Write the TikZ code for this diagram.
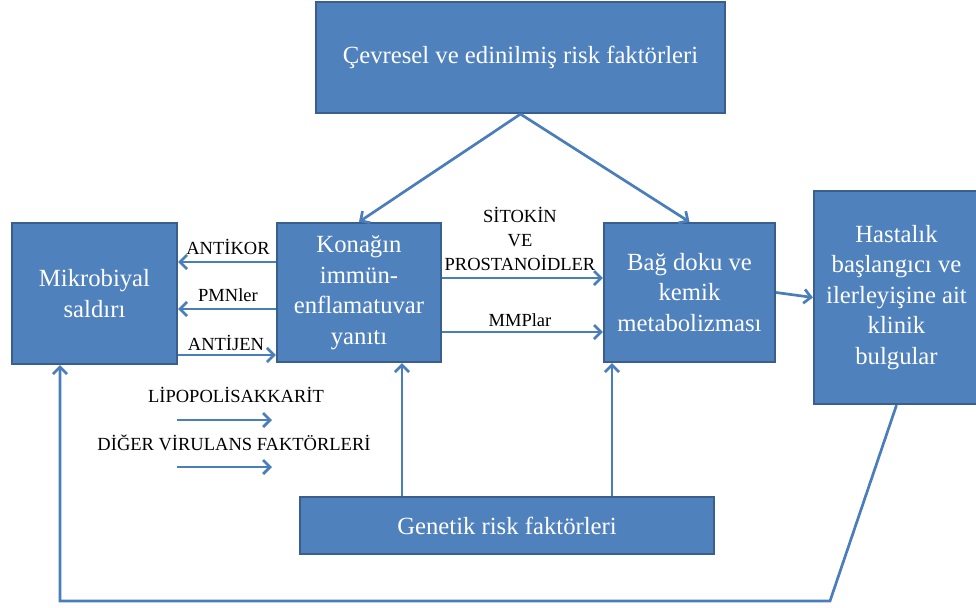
\documentclass[tikz,border=0pt]{standalone}
\usepackage{fontspec}
\setmainfont{Liberation Serif}
\usetikzlibrary{arrows.meta}
\definecolor{boxfill}{HTML}{4F81BD}
\definecolor{boxline}{HTML}{3A5F8C}
\definecolor{linkc}{HTML}{4A7EBB}
\begin{document}
\begin{tikzpicture}[x=1pt,y=-1pt,
  box/.style={draw=boxline, line width=2.2pt, fill=boxfill, text=white,
    font=\fontsize{24.7}{30.5}\selectfont, align=center, inner sep=0pt},
  conn/.style={draw=linkc, line width=2.7pt},
  arr/.style={conn, -{Straight Barb[length=7pt,width=14pt]}},
  lbl/.style={font=\fontsize{18.5}{24}\selectfont, align=center, inner sep=0pt}]
\useasboundingbox (0,0) rectangle (976,607);

% boxes
\node[box, minimum width=409pt, minimum height=111pt] (env) at (520.5,57.5)
  {Çevresel ve edinilmiş risk faktörleri};
\node[box, minimum width=165pt, minimum height=141pt] (mikro) at (94.5,293.5)
  {Mikrobiyal\\saldırı};
\node[box, minimum width=164pt, minimum height=139pt] (konak) at (359,292.5)
  {Konağın\\immün-\\enflamatuvar\\yanıtı};
\node[box, minimum width=171pt, minimum height=139pt] (bag) at (689.5,292.5)
  {Bağ doku ve\\kemik\\metabolizması};
\node[box, minimum width=165pt, minimum height=213pt] (hast) at (896.5,297.5)
  {Hastalık\\başlangıcı ve\\ilerleyişine ait\\klinik\\bulgular};
\node[box, minimum width=414pt, minimum height=57pt] (gen) at (507,525.5)
  {Genetik risk faktörleri};

% helper levels
\coordinate (yAntikor) at (0,262);
\coordinate (yPmn) at (0,309);
\coordinate (yAntijen) at (0,355);
\coordinate (ySito) at (0,278);
\coordinate (yMmp) at (0,332);
\coordinate (xGenA) at (402,0);
\coordinate (xGenB) at (612,0);
\coordinate (xBack) at (60,0);
\coordinate (lpsA) at (177,420);
\coordinate (lpsB) at (272,420);
\coordinate (virA) at (177,467);
\coordinate (virB) at (272,467);
\coordinate (backA) at (830,601);
\coordinate (backB) at (60,601);

% connectors
\draw[arr] (env.south) -- (konak.north);
\draw[arr] (env.south) -- (bag.north);
\draw[arr] (konak.west |- yAntikor) -- (mikro.east |- yAntikor);
\draw[arr] (konak.west |- yPmn) -- (mikro.east |- yPmn);
\draw[arr] (mikro.east |- yAntijen) -- (konak.west |- yAntijen);
\draw[arr] (konak.east |- ySito) -- (bag.west |- ySito);
\draw[arr] (konak.east |- yMmp) -- (bag.west |- yMmp);
\draw[arr] (gen.north -| xGenA) -- (konak.south -| xGenA);
\draw[arr] (gen.north -| xGenB) -- (bag.south -| xGenB);
\draw[arr] (bag.east) -- (hast.west);
\draw[arr] (lpsA) -- (lpsB);
\draw[arr] (virA) -- (virB);
\draw[arr] (hast.south) -- (backA) -- (backB) -- (mikro.south -| xBack);

% labels
\node[lbl] (lAntikor) at (228,247) {ANTİKOR};
\node[lbl] (lPmn) at (228,295) {PMNler};
\node[lbl] (lAntijen) at (226,343) {ANTİJEN};
\node[lbl] (lSito) at (520,239) {SİTOKİN\\VE\\PROSTANOİDLER};
\node[lbl] (lMmp) at (520,320) {MMPlar};
\node[lbl] (lLps) at (236,395) {LİPOPOLİSAKKARİT};
\node[lbl] (lVir) at (234,443) {DİĞER VİRULANS FAKTÖRLERİ};
\end{tikzpicture}
\end{document}
